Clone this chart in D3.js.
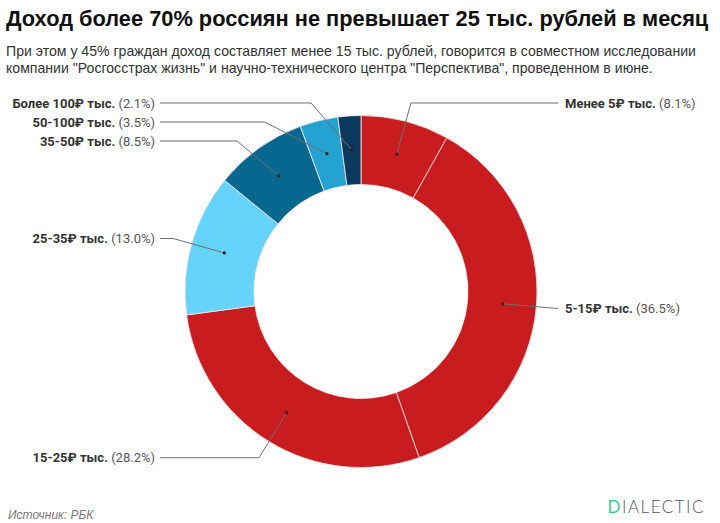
<!DOCTYPE html>
<html>
<head>
<meta charset="utf-8">
<script src="https://cdn.jsdelivr.net/npm/d3@7"></script>
<style>
  body { margin: 0; background: #fff; }
  svg { display: block; }
</style>
</head>
<body>
<div id="chart"></div>
<script>
// data
var categories = ["Менее 5₽ тыс.", "5-15₽ тыс.", "15-25₽ тыс.", "25-35₽ тыс.", "35-50₽ тыс.", "50-100₽ тыс.", "Более 100₽ тыс."]
var shares = [8.1, 36.5, 28.2, 13.0, 8.5, 3.5, 2.1]
var sliceColors = ["#c81c1f", "#c81c1f", "#c81c1f", "#66d3fa", "#06688f", "#24a3d3", "#0b3a5e"]

var title = "Доход более 70% россиян не превышает 25 тыс. рублей в месяц"
var subtitle = [
    "При этом у 45% граждан доход составляет менее 15 тыс. рублей, говорится в совместном исследовании",
    "компании \"Росгосстрах жизнь\" и научно-технического центра \"Перспектива\", проведенном в июне."
]
var source = "Источник: РБК"

var width = 720,
    height = 523,
    cx = 361,
    cy = 291.5,
    outerR = 176,
    innerR = 107,
    labelR = 195

var svg = d3.select("#chart")
    .append("svg")
    .attr("width", width)
    .attr("height", height)

// title + subtitle
svg.append("text")
    .attr("x", 6)
    .attr("y", 26)
    .style("font-family", "'Liberation Sans', Arial, sans-serif")
    .style("font-weight", "bold")
    .style("font-size", "21.8px")
    .style("fill", "#111")
    .text(title)

svg.selectAll(".sub")
    .data(subtitle)
    .enter()
    .append("text")
    .attr("class", "sub")
    .attr("x", 6)
    .attr("y", function (d, i) { return 56 + i * 17 })
    .style("font-family", "'Liberation Sans', Arial, sans-serif")
    .style("font-size", "14.1px")
    .style("fill", "#333")
    .text(function (d) { return d })

var pie = d3.pie()
    .sort(null)
    .value(function (d) { return d })

var arcs = pie(shares)

var arc = d3.arc()
    .innerRadius(innerR)
    .outerRadius(outerR)

var midArc = d3.arc()
    .innerRadius(innerR + 35)
    .outerRadius(innerR + 35)

var g = svg.append("g")
    .attr("transform", "translate(" + cx + "," + cy + ")")

g.selectAll("path")
    .data(arcs)
    .enter()
    .append("path")
    .attr("d", arc)
    .style("fill", function (d, i) { return sliceColors[i] })
    .style("stroke", "#ffe8e8")
    .style("stroke-width", 0.8)

// label layout: natural y on a circle, then push apart on each side
var labels = arcs.map(function (d, i) {
    var a = (d.startAngle + d.endAngle) / 2
    return {
        i: i,
        right: Math.sin(a) >= 0,
        y: -labelR * Math.cos(a),
        dot: midArc.centroid(d)
    }
})

var minY = -188.5, gap = 19
;[true, false].forEach(function (side) {
    var list = labels.filter(function (l) { return l.right === side })
        .sort(function (a, b) { return a.y - b.y })
    var prev = minY - gap
    list.forEach(function (l) {
        if (l.y < prev + gap) l.y = prev + gap
        prev = l.y
    })
})

labels.forEach(function (l) {
    var s = l.right ? 1 : -1
    var dy = Math.max(-labelR, Math.min(labelR, l.y))
    var ex = s * Math.sqrt(labelR * labelR - dy * dy)
    var endX = l.right ? 558 - cx : 160 - cx
    l.points = [l.dot, [ex, l.y], [endX, l.y]]
    l.textX = l.right ? 565 - cx : 155 - cx
})

g.selectAll(".conn")
    .data(labels)
    .enter()
    .append("path")
    .attr("class", "conn")
    .attr("d", function (l) { return d3.line()(l.points) })
    .style("fill", "none")
    .style("stroke", "#6f6f6f")
    .style("stroke-width", 1)

g.selectAll(".dot")
    .data(labels)
    .enter()
    .append("circle")
    .attr("class", "dot")
    .attr("cx", function (l) { return l.dot[0] })
    .attr("cy", function (l) { return l.dot[1] })
    .attr("r", 1.6)
    .style("fill", "#3a1a1a")

var fmt = d3.format(".1f")
var lbl = g.selectAll(".lbl")
    .data(labels)
    .enter()
    .append("text")
    .attr("class", "lbl")
    .attr("x", function (l) { return l.textX })
    .attr("y", function (l) { return l.y + 4.5 })
    .attr("text-anchor", function (l) { return l.right ? "start" : "end" })
    .style("font-family", "Roboto, 'Noto Sans', sans-serif")
    .style("font-size", "13px")

lbl.append("tspan")
    .style("font-weight", "bold")
    .style("fill", "#333")
    .text(function (l) { return categories[l.i] + " " })

lbl.append("tspan")
    .style("fill", "#555")
    .text(function (l) { return "(" + fmt(shares[l.i]) + "%)" })

// footer
svg.append("text")
    .attr("x", 8)
    .attr("y", 519)
    .style("font-family", "'Liberation Sans', Arial, sans-serif")
    .style("font-style", "italic")
    .style("font-size", "12px")
    .style("fill", "#777")
    .text(source)

var logo = svg.append("text")
    .attr("x", 705)
    .attr("y", 513)
    .attr("text-anchor", "end")
    .style("font-family", "Lato, 'Open Sans', sans-serif")
    .style("font-weight", 300)
    .style("font-size", "17px")
    .style("letter-spacing", "1.5px")
    .style("fill", "#555")
logo.append("tspan").style("fill", "#3fc79b").style("font-weight", 400).text("D")
logo.append("tspan").text("IALECTIC")
</script>
</body>
</html>
